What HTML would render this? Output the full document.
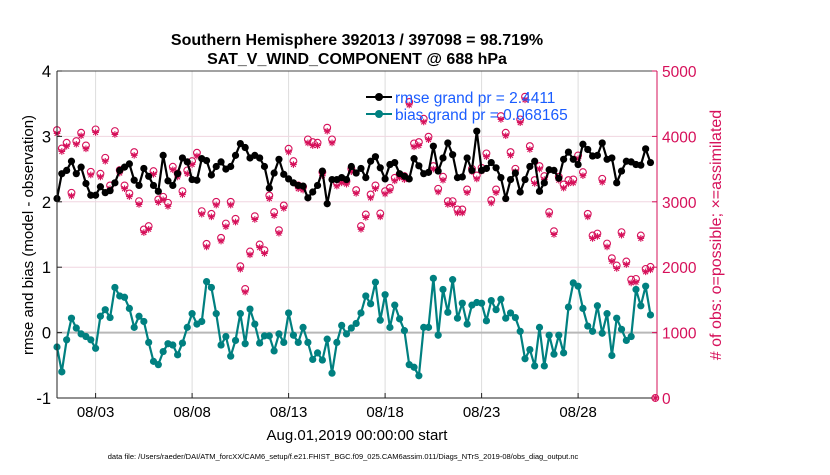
<!DOCTYPE html>
<html><head><meta charset="utf-8"><style>
body{margin:0;background:#fff;}
svg text{font-family:"Liberation Sans",Arial,sans-serif;}
</style></head><body>
<svg id="chart" width="830" height="470" viewBox="0 0 830 470" xmlns="http://www.w3.org/2000/svg">
<rect width="830" height="470" fill="#fff"/>
<g id="grid"></g>
<g id="marks"></g>
<g id="axes"></g>
<text x="357" y="45" text-anchor="middle" font-size="16" font-weight="bold">Southern Hemisphere 392013 / 397098 = 98.719%</text>
<text x="357" y="64" text-anchor="middle" font-size="16" font-weight="bold">SAT_V_WIND_COMPONENT @ 688 hPa</text>
<text transform="translate(33,235) rotate(-90)" text-anchor="middle" font-size="15">rmse and bias (model - observation)</text>
<text transform="translate(721,235) rotate(-90)" text-anchor="middle" font-size="16" fill="#d6105a"># of obs: o=possible; ×=assimilated</text>
<text x="357" y="440" text-anchor="middle" font-size="15">Aug.01,2019 00:00:00 start</text>
<text x="343" y="459" text-anchor="middle" font-size="7.5">data file: /Users/raeder/DAI/ATM_forcXX/CAM6_setup/f.e21.FHIST_BGC.f09_025.CAM6assim.011/Diags_NTrS_2019-08/obs_diag_output.nc</text>
<g id="legend">
<line x1="366" y1="97" x2="392" y2="97" stroke="#000" stroke-width="2"/><circle cx="379" cy="97" r="4" fill="#000"/>
<text x="395" y="103" font-size="15.5" fill="#1a5cff">rmse grand pr = 2.4411</text>
<line x1="366" y1="114" x2="392" y2="114" stroke="#008080" stroke-width="2"/><circle cx="379" cy="114" r="4" fill="#008080"/>
<text x="395" y="120" font-size="15.5" fill="#1a5cff">bias grand pr = 0.068165</text>
</g>
</svg>
<script>
const xTickLabels=["08/03","08/08","08/13","08/18","08/23","08/28"];
const xTickDays=[2,7,12,17,22,27];
const yLeftTicks=[4,3,2,1,0,-1];
const yRightTicks=[5000,4000,3000,2000,1000,0];
const rmse=[2.05,2.43,2.48,2.62,2.43,2.53,2.28,2.1,2.1,2.23,2.14,2.17,2.29,2.48,2.53,2.58,2.33,2.25,2.51,2.39,2.25,2.16,2.71,2.32,2.25,2.43,2.67,2.61,2.34,2.33,2.66,2.63,2.41,2.54,2.61,2.5,2.54,2.71,2.89,2.83,2.67,2.71,2.67,2.54,
2.21,2.44,2.65,2.42,2.35,2.29,2.25,2.24,2.06,2.15,2.25,2.47,1.97,2.34,2.34,2.37,2.34,2.54,2.44,2.51,2.37,2.62,2.69,2.52,2.35,2.57,2.6,2.43,2.39,2.35,2.66,2.55,2.43,2.45,2.85,2.47,2.67,2.9,2.72,2.37,2.38,
2.67,2.48,3.08,2.48,2.51,2.6,2.52,2.37,2.05,2.34,2.44,2.15,2.34,2.54,2.62,2.16,2.29,2.49,2.48,2.36,2.65,2.76,2.65,2.57,2.88,2.8,2.7,2.71,2.9,2.65,2.67,2.29,2.47,2.62,2.61,2.57,2.56,2.81,2.6];
const bias=[-0.22,-0.6,-0.11,0.22,0.07,-0.02,-0.06,-0.11,-0.24,0.25,0.35,0.23,0.69,0.56,0.54,0.37,0.08,0.25,0.17,-0.15,-0.44,-0.49,-0.29,-0.17,-0.19,-0.34,-0.16,0.08,0.29,0.13,0.17,0.78,0.69,0.29,-0.19,-0.06,-0.36,-0.12,0.29,-0.17,0.36,0.13,-0.16,-0.05,
-0.05,-0.28,-0.02,-0.15,0.3,-0.04,-0.15,0.08,-0.15,-0.41,-0.31,-0.42,-0.1,-0.62,-0.15,0.11,-0.02,0.07,0.14,0.3,0.56,0.44,0.77,0.19,0.58,0.08,0.42,0.21,0.03,-0.49,-0.53,-0.66,0.08,0.08,0.83,-0.04,0.66,0.31,0.81,0.22,0.45,
0.13,0.42,0.46,0.45,0.18,0.49,0.35,0.51,0.22,0.3,0.23,0.02,-0.4,-0.26,-0.51,0.08,-0.51,-0.04,-0.33,-0.04,-0.31,0.39,0.76,0.71,0.37,0.1,0.02,0.41,-0.01,0.29,-0.35,0.22,0.05,-0.12,-0.06,0.66,0.41,0.71,0.27];
const possible=[4097,3816,3903,3138,3929,4056,3862,3459,4107,3429,3673,3250,4082,3485,3250,3128,3760,3010,2577,2628,3469,3036,3077,2985,3536,3434,3163,3480,3622,3750,2857,2357,2816,3000,2449,2668,3000,2740,2015,1668,2240,2780,2347,2260,
3097,2842,2566,2944,3811,3622,3250,3230,3954,3913,3903,3454,4133,3954,3291,3342,3316,3505,3179,2628,2806,3112,3250,2821,3163,3214,3367,3418,3393,4526,3893,3913,4270,3995,3546,3199,3383,3010,3010,2883,2883,
3189,3505,3403,3520,3740,3026,3189,4311,4056,3760,3505,4260,4607,3852,3332,3546,3393,2842,2551,3383,3265,3332,3342,3709,3454,2816,2485,2515,3352,2362,2138,2026,2536,2087,1811,1821,2485,1974,2005,0];
const assimilated=[4045,3770,3850,3090,3880,4010,3810,3410,4060,3380,3620,3200,4030,3440,3200,3080,3710,2960,2530,2580,3420,2990,3030,2930,3490,3380,3110,3430,3570,3700,2810,2310,2770,2950,2400,2620,2950,2690,1970,1620,2190,2730,2300,2210,
3050,2790,2520,2900,3760,3570,3200,3180,3900,3860,3860,3400,4080,3900,3240,3290,3270,3460,3130,2580,2760,3060,3200,2770,3120,3170,3320,3370,3340,4480,3840,3860,4220,3950,3500,3150,3330,2960,2960,2830,2830,
3140,3460,3350,3470,3690,2980,3140,4260,4010,3710,3460,4210,4560,3800,3280,3500,3340,2800,2500,3330,3210,3280,3290,3660,3400,2770,2440,2470,3300,2310,2090,1980,2490,2040,1760,1770,2440,1930,1960,0];

const NS="http://www.w3.org/2000/svg";
const X0=57,X1=657,Y0=398,Y1=71;
const DAYPX=19.3;
function xDay(d){return X0+d*DAYPX;}
function xIdx(i){return xDay(i*0.25);}
function yL(v){return Y0-(v+1)/5*(Y0-Y1);}
function yR(c){return Y0-c/5000*(Y0-Y1);}
function mk(tag,attrs,parent){const e=document.createElementNS(NS,tag);for(const k in attrs)e.setAttribute(k,attrs[k]);parent.appendChild(e);return e;}
const grid=document.getElementById('grid'),marks=document.getElementById('marks'),axes=document.getElementById('axes');
const RED="#d6105a";
xTickDays.forEach((d,i)=>{const l=mk('line',{x1:xDay(d),x2:xDay(d),y1:Y1,y2:Y0,stroke:'#dcdcdc','stroke-width':1},grid);

});
yRightTicks.forEach(c=>{if(c===0||c===5000)return;const l=mk('line',{x1:X0,x2:X1,y1:yR(c),y2:yR(c),stroke:'#f0d6e0','stroke-width':1},grid);

});
const zl=mk('line',{x1:X0,x2:X1,y1:yL(0),y2:yL(0),stroke:'#b8b8b8','stroke-width':2},grid);


possible.forEach((c,i)=>{const e=mk('circle',{cx:xIdx(i),cy:yR(c),r:3.4,fill:'none',stroke:RED,'stroke-width':1.1},marks);

});
assimilated.forEach((c,i)=>{const x=xIdx(i),y=yR(c),r=3.3;
const e=mk('path',{d:`M${x-r},${y}H${x+r}M${x},${y-r}V${y+r}M${x-2.4},${y-2.4}L${x+2.4},${y+2.4}M${x-2.4},${y+2.4}L${x+2.4},${y-2.4}`,stroke:RED,'stroke-width':1.1,fill:'none'},marks);

});
function series(arr,color,name){
 const pts=arr.map((v,i)=>xIdx(i).toFixed(1)+','+yL(v).toFixed(1)).join(' ');
 const pl=mk('polyline',{points:pts,fill:'none',stroke:color,'stroke-width':2.2,'stroke-linejoin':'round'},marks);
 
 
 arr.forEach((v,i)=>{const c=mk('circle',{cx:xIdx(i),cy:yL(v),r:3.6,fill:color},marks);
 
 });
}
series(rmse,'#000','rmse');
series(bias,'#008080','bias');
const ta=mk('line',{x1:X0,x2:X1,y1:Y1,y2:Y1,stroke:'#444','stroke-width':1},axes);


const la=mk('line',{x1:X0,x2:X0,y1:Y1,y2:Y0,stroke:'#222','stroke-width':1},axes);


const ra=mk('line',{x1:X1,x2:X1,y1:Y1,y2:Y0,stroke:RED,'stroke-width':1},axes);


const ba=mk('line',{x1:X0,x2:X1,y1:Y0,y2:Y0,stroke:'#222','stroke-width':1},axes);


yLeftTicks.forEach(v=>{mk('line',{x1:X0,x2:X0+5,y1:yL(v),y2:yL(v),stroke:'#222'},axes);
const t=mk('text',{x:X0-6,y:yL(v)+6,'text-anchor':'end','font-size':16.5},axes);t.textContent=v;

});
yRightTicks.forEach(c=>{mk('line',{x1:X1-5,x2:X1,y1:yR(c),y2:yR(c),stroke:RED},axes);
const t=mk('text',{x:X1+5,y:yR(c)+6,'font-size':15.5,fill:RED},axes);t.textContent=c;

});
xTickDays.forEach((d,i)=>{mk('line',{x1:xDay(d),x2:xDay(d),y1:Y0-5,y2:Y0,stroke:'#222'},axes);
const t=mk('text',{x:xDay(d),y:Y0+19,'text-anchor':'middle','font-size':15},axes);t.textContent=xTickLabels[i];

});
</script>
</body></html>
